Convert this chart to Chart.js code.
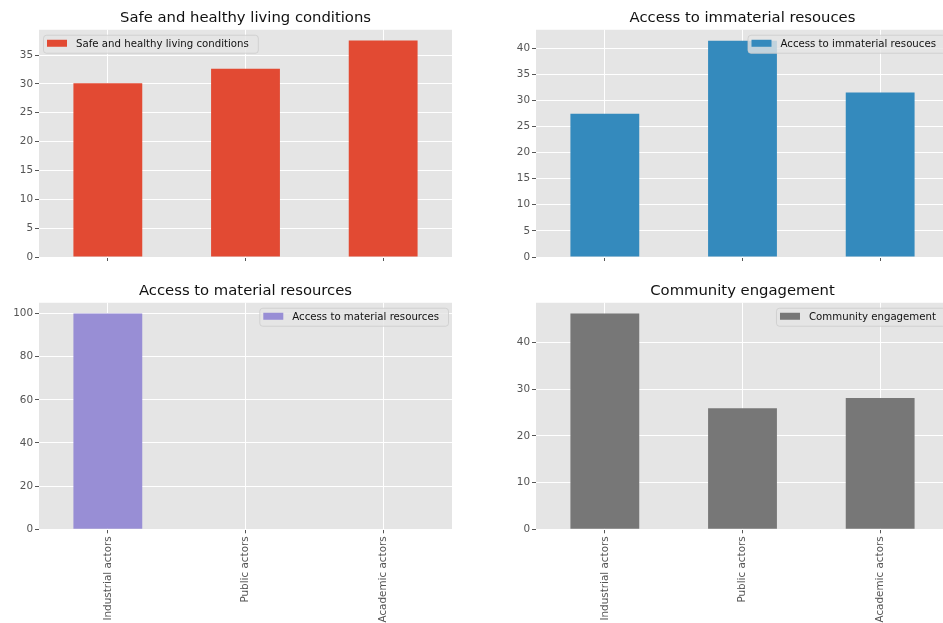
<!DOCTYPE html>
<html>
<head>
<meta charset="utf-8">
<script src="https://cdn.jsdelivr.net/npm/chart.js@4/dist/chart.umd.min.js"></script>
<style>
  html, body { margin: 0; padding: 0; background: #fff; overflow: hidden; width: 943px; height: 623px; }
  .box { position: absolute; }
</style>
</head>
<body>
<div class="box" style="left:0;top:0;width:470px;height:270px"><canvas id="c1"></canvas></div>
<div class="box" style="left:470px;top:0;width:480px;height:270px"><canvas id="c2"></canvas></div>
<div class="box" style="left:0;top:270px;width:470px;height:353px"><canvas id="c3"></canvas></div>
<div class="box" style="left:470px;top:270px;width:480px;height:353px"><canvas id="c4"></canvas></div>
<script>
// data
var actores = ["Industrial actors", "Public actors", "Academic actors"];
var condiciones = [30.1, 32.6, 37.5];
var inmateriales = [27.4, 41.4, 31.5];
var materiales = [100, 0, 0];
var comunidad = [46.2, 25.9, 28.1];

var FUENTE = "'DejaVu Sans', sans-serif";

// fondo gris del area y leyenda dentro del grafico
var fondoGris = {
  id: "fondoGris",
  beforeDraw: function (chart) {
    var a = chart.chartArea, ctx = chart.ctx;
    ctx.save();
    ctx.fillStyle = "#E5E5E5";
    ctx.fillRect(a.left, a.top, a.right - a.left, a.bottom - a.top);
    ctx.restore();
  },
  afterDatasetsDraw: function (chart, args, opts) {
    var a = chart.chartArea, ctx = chart.ctx;
    var ds = chart.data.datasets[0];
    ctx.save();
    ctx.font = "10.2px " + FUENTE;
    var w = ctx.measureText(ds.label).width + 42;
    var h = 18;
    var x = opts.lado === "izq" ? a.left + 4 : a.right - 4 - w;
    var y = a.top + 5;
    ctx.beginPath();
    ctx.roundRect(x + 0.5, y + 0.5, w, h, 3);
    ctx.fillStyle = "rgba(229,229,229,0.8)";
    ctx.fill();
    ctx.strokeStyle = "rgba(204,204,204,0.8)";
    ctx.lineWidth = 1;
    ctx.stroke();
    ctx.fillStyle = ds.backgroundColor;
    ctx.fillRect(x + 4, y + 5, 20, 7);
    ctx.fillStyle = "#111";
    ctx.textBaseline = "middle";
    ctx.fillText(ds.label, x + 33, y + h / 2 + 0.5);
    ctx.restore();
  }
};

function crearGrafica(id, titulo, valores, color, maximo, paso, abajo, lado) {
  var ctx = document.getElementById(id).getContext("2d");
  return new Chart(ctx, {
    type: "bar",
    data: {
      labels: actores,
      datasets: [{
        label: titulo,
        data: valores,
        backgroundColor: color,
        borderWidth: 0,
        categoryPercentage: 1,
        barPercentage: 0.5
      }]
    },
    plugins: [fondoGris],
    options: {
      responsive: true,
      maintainAspectRatio: false,
      animation: false,
      layout: { padding: { left: 0, right: id === "c1" || id === "c3" ? 18 : 1, top: 0, bottom: 0 } },
      plugins: {
        legend: { display: false },
        tooltip: { enabled: false },
        fondoGris: { lado: lado },
        title: {
          display: true,
          text: titulo,
          fullSize: false,
          color: "#111",
          font: { family: FUENTE, size: 14.8, weight: "normal" },
          padding: abajo ? { top: 12, bottom: 3 } : { top: 9, bottom: 3 }
        }
      },
      scales: {
        x: {
          offset: true,
          border: { display: false },
          grid: { color: "#ffffff", lineWidth: 1, offset: false, drawTicks: true, tickLength: 4, tickColor: "#555555" },
          ticks: {
            display: abajo,
            color: "#555555",
            font: { family: FUENTE, size: 10.4 },
            minRotation: 90,
            maxRotation: 90,
            autoSkip: false,
            padding: 3
          },
          afterFit: function (s) { s.height = abajo ? 93.7 : 13; }
        },
        y: {
          min: 0,
          max: maximo,
          border: { display: false },
          grid: { color: "#ffffff", lineWidth: 1, drawTicks: true, tickLength: 4, tickColor: "#555555" },
          ticks: {
            stepSize: paso,
            includeBounds: false,
            color: "#555555",
            font: { family: FUENTE, size: 10.4 },
            padding: 2
          },
          afterFit: function (s) { s.width = id === "c1" || id === "c3" ? 39 : 66; }
        }
      }
    }
  });
}

crearGrafica("c1", "Safe and healthy living conditions", condiciones, "#E24A33", 39.375, 5, false, "izq");
crearGrafica("c2", "Access to immaterial resouces", inmateriales, "#348ABD", 43.5, 5, false, "der");
crearGrafica("c3", "Access to material resources", materiales, "#988ED5", 105, 20, true, "der");
crearGrafica("c4", "Community engagement", comunidad, "#777777", 48.5, 10, true, "der");
</script>
</body>
</html>
